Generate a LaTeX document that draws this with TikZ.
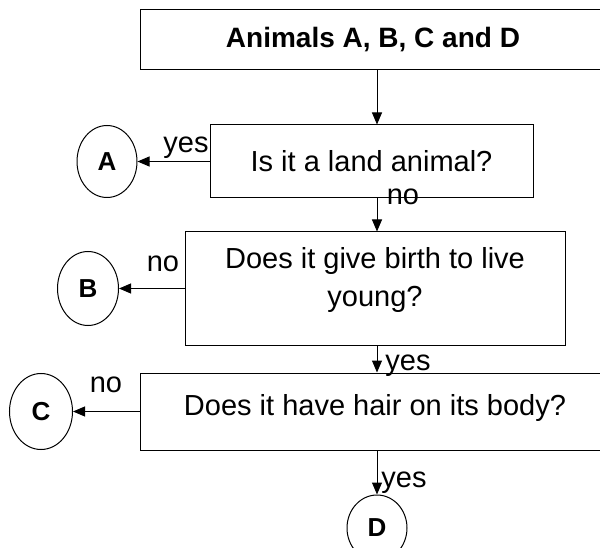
\documentclass[tikz,border=0pt]{standalone}
\usepackage{fontspec}
\setmainfont{Liberation Sans}
\usetikzlibrary{arrows.meta,calc,positioning,shapes.geometric}

\begin{document}
\begin{tikzpicture}[x=1pt,y=-1pt, line width=1pt,
    every node/.style={font=\fontsize{29}{38}\selectfont},
    qbox/.style={draw, rectangle, inner sep=0pt, align=center},
    endpt/.style={draw, ellipse, inner sep=0pt, font=\fontsize{26}{30}\selectfont\bfseries},
    flow/.style={-{Triangle[length=12pt,width=10pt]}},
    lbl/.style={inner sep=0pt}]
  \useasboundingbox (0,0) rectangle (600,548);
  \coordinate (spine) at (377,0);
  % question boxes
  \node[qbox, minimum width=466pt, minimum height=60pt, font=\fontsize{28}{34}\selectfont\bfseries] (animals) at (373,40) {Animals A, B, C and D};
  \node[qbox, minimum width=323pt, minimum height=73pt] (land) at (371.5,161.5) {Is it a land animal?};
  \node[qbox, minimum width=380pt, minimum height=113pt, text depth=24pt] (birth) at (375,288.5) {Does it give birth to live\\young?};
  \node[qbox, minimum width=470pt, minimum height=77pt, text depth=14pt] (hair) at (375,411.5) {Does it have hair on its body?};
  % answers
  \node[endpt, minimum width=60pt, minimum height=72pt] (A) at (107,161.5) {A};
  \node[endpt, minimum width=61pt, minimum height=74pt] (B) at (88,288.5) {B};
  \node[endpt, minimum width=63pt, minimum height=76pt] (C) at (41,411.5) {C};
  \node[endpt, minimum width=60pt, minimum height=66pt] (D) at (377,528) {D};
  % connectors
  \draw[flow] (animals.south -| spine) -- (land.north -| spine);
  \draw[flow] (land.south -| spine) -- (birth.north -| spine);
  \draw[flow] (birth.south -| spine) -- (hair.north -| spine);
  \draw[flow] (hair.south -| spine) -- (D.north);
  \draw[flow] (land.west) -- (A.east);
  \draw[flow] (birth.west) -- (B.east);
  \draw[flow] (hair.west) -- (C.east);
  % yes / no
  \node[lbl] (yesA) at (186,148) {yes};
  \node[lbl] (noLand) at (403,197) {no};
  \node[lbl] (noB) at (163,264) {no};
  \node[lbl] (yesBirth) at (408,366) {yes};
  \node[lbl] (noC) at (106,385) {no};
  \node[lbl] (yesHair) at (404,483) {yes};
\end{tikzpicture}
\end{document}
